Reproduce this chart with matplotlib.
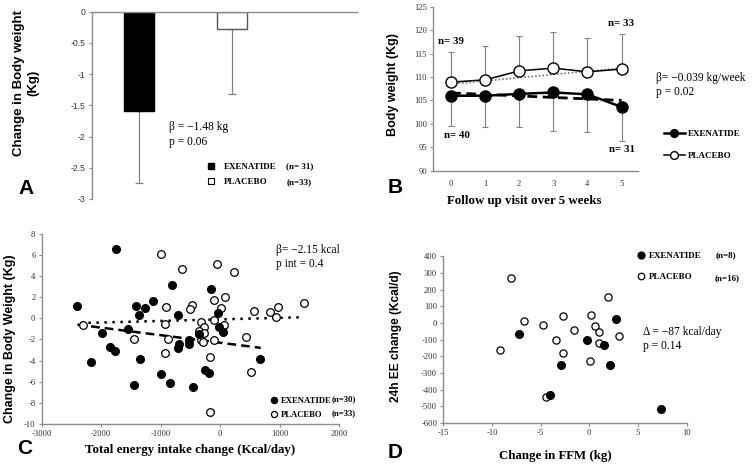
import numpy as np
import matplotlib
matplotlib.use('Agg')
import matplotlib.pyplot as plt
from matplotlib.lines import Line2D

plt.rcParams['font.family'] = 'Liberation Serif'
plt.rcParams['axes.unicode_minus'] = False

SANS = 'Liberation Sans'
GREY = '#8c8c8c'
TICKC = '#333333'

# ---- panel A: mean change in body weight
a_groups = ['EXENATIDE', 'PLACEBO']
a_nlab = ['(n= 31)', '(n=33)']
a_mean = [-1.59, -0.28]
a_sd = [1.16, 1.03]  # only the lower half is drawn
a_yticks = [0, -0.5, -1, -1.5, -2, -2.5, -3]

# ---- panel B: body weight over visits
b_week = [0, 1, 2, 3, 4, 5]
b_exe = [106.0, 106.0, 106.4, 106.7, 106.3, 103.6]
b_exe_sd = [6.4, 6.6, 7.0, 8.2, 8.1, 7.2]
b_pla = [108.9, 109.4, 111.3, 111.9, 111.1, 111.7]
b_pla_sd = [6.5, 7.3, 7.5, 7.6, 7.2, 7.4]
b_fit_x = [0, 5]
b_exe_fit = [106.6, 105.0]
b_pla_fit = [108.5, 111.9]

# ---- panel C: energy intake change vs weight change
c_exe_x = [-2400, -2170, -1990, -1750, -1850, -1765, -1550, -1455, -1410, -1360,
           -1345, -1270, -1130, -990, -840, -805, -715, -715, -700, -530,
           -530, -450, -364, -157, -40, -15, 45, -263, -196, 670]
c_exe_y = [1.2, -4.1, -1.4, 6.6, -2.7, -3.1, -1.05, -6.3, 1.2, 0.3,
           -3.9, 1.0, 1.6, -5.3, -6.1, 3.2, 0.3, -2.85, -2.4, -2.1,
           -2.45, -6.5, -1.45, 2.8, 0.5, -0.85, -1.27, -4.9, -5.15, -3.9]
c_pla_x = [-2300, -1445, -1000, -645, -915, -935, -935, -870, -480, -500,
           -56, 235, -112, 73, 11, 565, 840, 970, 936, 1400,
           -320, -112, 60, -265, -350, -280, -320, -290, -112, 432,
           -180, 521, -168]
c_pla_y = [-0.6, -2.0, 6.1, 4.65, 1.1, -0.5, -3.25, -1.95, 1.25, 0.88,
           5.15, 4.36, 1.72, 2.0, 1.02, 0.7, 0.63, 1.1, 0.12, 1.42,
           -0.35, -0.16, -0.64, -0.85, -1.18, -1.35, -2.05, -2.25, -2.1, -1.74,
           -3.65, -5.12, -8.9]
c_exe_fit_x = [-2400, 680]
c_exe_fit_y = [-0.6, -2.8]
c_pla_fit_x = [-2350, 1370]
c_pla_fit_y = [-0.45, 0.1]

# ---- panel D: FFM change vs 24h EE change
d_exe_x = [-7.2, -2.9, -4.0, -0.2, 2.7, 1.5, 2.1, 7.4]
d_exe_y = [-66, -254, -432, -104, 26, -132, -252, -516]
d_pla_x = [-8.0, -9.2, -6.7, -4.75, -2.7, -3.4, -1.6, -2.7, -4.4, 0.05,
           1.9, 0.2, 0.55, 0.95, 0.95, 3.1]
d_pla_y = [272, -164, 12, -12, 40, -102, -44, -178, -443, -226,
           158, 48, -16, -56, -122, -78]

W, H = 755, 470
fig = plt.figure(figsize=(W / 100, H / 100), dpi=100)


def ftext(px, py, s, **kw):
    # place text using pixel position of the reference picture
    return fig.text(px / W, 1 - py / H, s, **kw)


def style(ax, sans=False):
    for s in ax.spines.values():
        s.set_color(GREY)
        s.set_linewidth(1.0)
    ax.spines['right'].set_visible(False)
    ax.spines['top'].set_visible(False)
    ax.tick_params(length=2.5, width=0.8, color=GREY, labelsize=6.2,
                   labelcolor=TICKC, pad=2)
    if sans:
        for lab in ax.get_yticklabels():
            lab.set_family(SANS)


# ================= A
axA = fig.add_axes([0.1215, 0.5766, 0.3515, 0.3984])
xa = np.arange(len(a_mean))
axA.errorbar(xa, a_mean, yerr=[a_sd, [0] * len(a_sd)], fmt='none', ecolor='#808080',
             elinewidth=0.9, capsize=3, capthick=0.9, zorder=1)
axA.bar(xa, a_mean, width=0.32, color=['black', 'white'],
        edgecolor=['black', '#555555'], linewidth=1.0, zorder=2)
axA.set_xlim(-0.505, 2.35)
axA.set_ylim(-3, 0)
axA.set_yticks(a_yticks)
axA.set_yticklabels(['%g' % v for v in a_yticks])
style(axA, sans=True)
axA.spines['bottom'].set_visible(False)
axA.spines['top'].set_visible(True)
axA.set_xticks([])
ftext(26, 83, 'Change in Body weight\n(Kg)', rotation=90, ha='center', va='center',
      family=SANS, fontweight='bold', fontsize=9.5, linespacing=1.2)
ftext(26, 188, 'A', family=SANS, fontweight='bold', fontsize=15, ha='center', va='center')
ftext(169, 127, 'β = −1.48 kg', fontsize=8.3, va='center')
ftext(169, 142, 'p = 0.06', fontsize=8.3, va='center')
a_handles = [Line2D([], [], ls='none', marker='s', ms=4, mfc='black', mec='black'),
             Line2D([], [], ls='none', marker='s', ms=4, mfc='white', mec='black', mew=0.8)]
axA.legend(a_handles, a_groups, loc='upper left', bbox_to_anchor=(202 / W, 1 - 158 / H),
           bbox_transform=fig.transFigure, frameon=False, borderpad=0, handlelength=1,
           handletextpad=0.9, labelspacing=0.75, prop={'weight': 'bold', 'size': 6.5})
for i, t in enumerate(a_nlab):
    ftext(286.5, 165.7 + 16 * i, t, fontsize=6.5, fontweight='bold', va='center')

# ================= B
axB = fig.add_axes([0.574, 0.6368, 0.2714, 0.3489])
axB.errorbar(b_week, b_pla, yerr=[[0] * 6, b_pla_sd], fmt='none', ecolor='#808080',
             elinewidth=0.8, capsize=2.5, capthick=0.8, zorder=1)
axB.errorbar(b_week, b_exe, yerr=[b_exe_sd, [0] * 6], fmt='none', ecolor='#808080',
             elinewidth=0.8, capsize=2.5, capthick=0.8, zorder=1)
axB.plot(b_fit_x, b_pla_fit, ls=(0, (1, 1.2)), color='#777777', lw=1.2, zorder=2)
axB.plot(b_fit_x, b_exe_fit, ls=(0, (3.5, 2)), color='black', lw=2.0, zorder=2)
lp, = axB.plot(b_week, b_pla, '-o', color='black', lw=1.1, ms=8, mfc='white', mew=1.0, zorder=3)
le, = axB.plot(b_week, b_exe, '-o', color='black', lw=1.8, ms=8, mfc='black', zorder=3)
axB.set_xlim(-0.52, 5.49)
axB.set_ylim(90, 125)
axB.set_yticks(np.arange(90, 126, 5))
axB.set_xticks(b_week)
style(axB)
axB.tick_params(axis='x', length=0, pad=7)
ftext(393, 85, 'Body weight (Kg)', rotation=90, ha='center', va='center',
      family=SANS, fontweight='bold', fontsize=9)
ftext(524, 201, 'Follow up visit over 5 weeks', ha='center', va='center',
      fontweight='bold', fontsize=9.3)
ftext(395, 187, 'B', family=SANS, fontweight='bold', fontsize=15, ha='center', va='center')
ftext(438, 41, 'n= 39', fontweight='bold', fontsize=7.8, va='center')
ftext(444, 135, 'n= 40', fontweight='bold', fontsize=7.8, va='center')
ftext(608, 24, 'n= 33', fontweight='bold', fontsize=7.8, va='center')
ftext(609, 150, 'n= 31', fontweight='bold', fontsize=7.8, va='center')
ftext(656, 78, 'β= −0.039 kg/week', fontsize=8.3, va='center')
ftext(656, 92, 'p = 0.02', fontsize=8.3, va='center')
axB.legend([le, lp], ['EXENATIDE', 'PLACEBO'], loc='upper left',
           bbox_to_anchor=(659 / W, 1 - 125 / H), bbox_transform=fig.transFigure,
           frameon=False, borderpad=0, handlelength=2.4, handletextpad=0.3,
           labelspacing=1.5, markerscale=0.7, prop={'weight': 'bold', 'size': 6.5})

# ================= C
axC = fig.add_axes([0.0552, 0.0983, 0.3942, 0.404])
axC.plot(c_pla_fit_x, c_pla_fit_y, ls=(0, (1, 2.2)), color='black', lw=1.8, zorder=1)
axC.plot(c_exe_fit_x, c_exe_fit_y, ls=(0, (3.5, 2)), color='black', lw=1.8, zorder=1)
sc_e, = axC.plot(c_exe_x, c_exe_y, 'o', ms=5.5, color='black', zorder=3)
sc_p, = axC.plot(c_pla_x, c_pla_y, 'o', ms=5.5, mfc='white', mec='black', mew=0.9, zorder=2)
axC.set_xlim(-3000, 2000)
axC.set_ylim(-10, 8)
axC.set_xticks(np.arange(-3000, 2001, 1000))
axC.set_yticks(np.arange(-10, 9, 2))
style(axC)
ftext(10, 339, 'Change in Body Weight (Kg)', rotation=90, ha='center', va='center',
      family=SANS, fontweight='bold', fontsize=9)
ftext(190, 450, 'Total energy intake change (Kcal/day)', ha='center', va='center',
      fontweight='bold', fontsize=9.3)
ftext(25, 449, 'C', family=SANS, fontweight='bold', fontsize=15, ha='center', va='center')
ftext(276, 250, 'β= −2.15 kcal', fontsize=8.3, va='center')
ftext(276, 264, 'p int = 0.4', fontsize=8.3, va='center')
axC.legend([sc_e, sc_p], ['EXENATIDE', 'PLACEBO'], loc='upper left',
           bbox_to_anchor=(266 / W, 1 - 392.5 / H), bbox_transform=fig.transFigure,
           frameon=False, borderpad=0, handlelength=0.9, handletextpad=0.35,
           labelspacing=0.7, markerscale=0.8, prop={'weight': 'bold', 'size': 6.2})
ftext(332, 399, '(n=30)', fontsize=6.3, fontweight='bold', va='center')
ftext(332, 413.3, '(n=33)', fontsize=6.3, fontweight='bold', va='center')

# ================= D
axD = fig.add_axes([0.5872, 0.1, 0.3222, 0.3545])
sd_e, = axD.plot(d_exe_x, d_exe_y, 'o', ms=5.5, color='black', zorder=3)
sd_p, = axD.plot(d_pla_x, d_pla_y, 'o', ms=5.2, mfc='white', mec='black', mew=0.9, zorder=2)
axD.set_xlim(-15, 10)
axD.set_ylim(-600, 400)
axD.set_xticks(np.arange(-15, 11, 5))
axD.set_yticks(np.arange(-600, 401, 100))
style(axD)
ftext(396, 336, '24h EE change (Kcal/d)', rotation=90, ha='center', va='center',
      family=SANS, fontweight='bold', fontsize=8.6)
ftext(555, 456, 'Change in FFM (kg)', ha='center', va='center',
      fontweight='bold', fontsize=9.3)
ftext(395, 452, 'D', family=SANS, fontweight='bold', fontsize=15, ha='center', va='center')
ftext(643, 332, 'Δ = −87 kcal/day', fontsize=8.3, va='center')
ftext(643, 346, 'p = 0.14', fontsize=8.3, va='center')
axD.legend([sd_e, sd_p], ['EXENATIDE', 'PLACEBO'], loc='upper left',
           bbox_to_anchor=(632 / W, 1 - 247.5 / H), bbox_transform=fig.transFigure,
           frameon=False, borderpad=0, handlelength=0.9, handletextpad=0.5,
           labelspacing=1.35, markerscale=0.9, prop={'weight': 'bold', 'size': 6.5})
ftext(716, 255, '(n=8)', fontsize=6.5, fontweight='bold', va='center')
ftext(715, 277.7, '(n=16)', fontsize=6.5, fontweight='bold', va='center')

fig.savefig('out.png', dpi=100)
